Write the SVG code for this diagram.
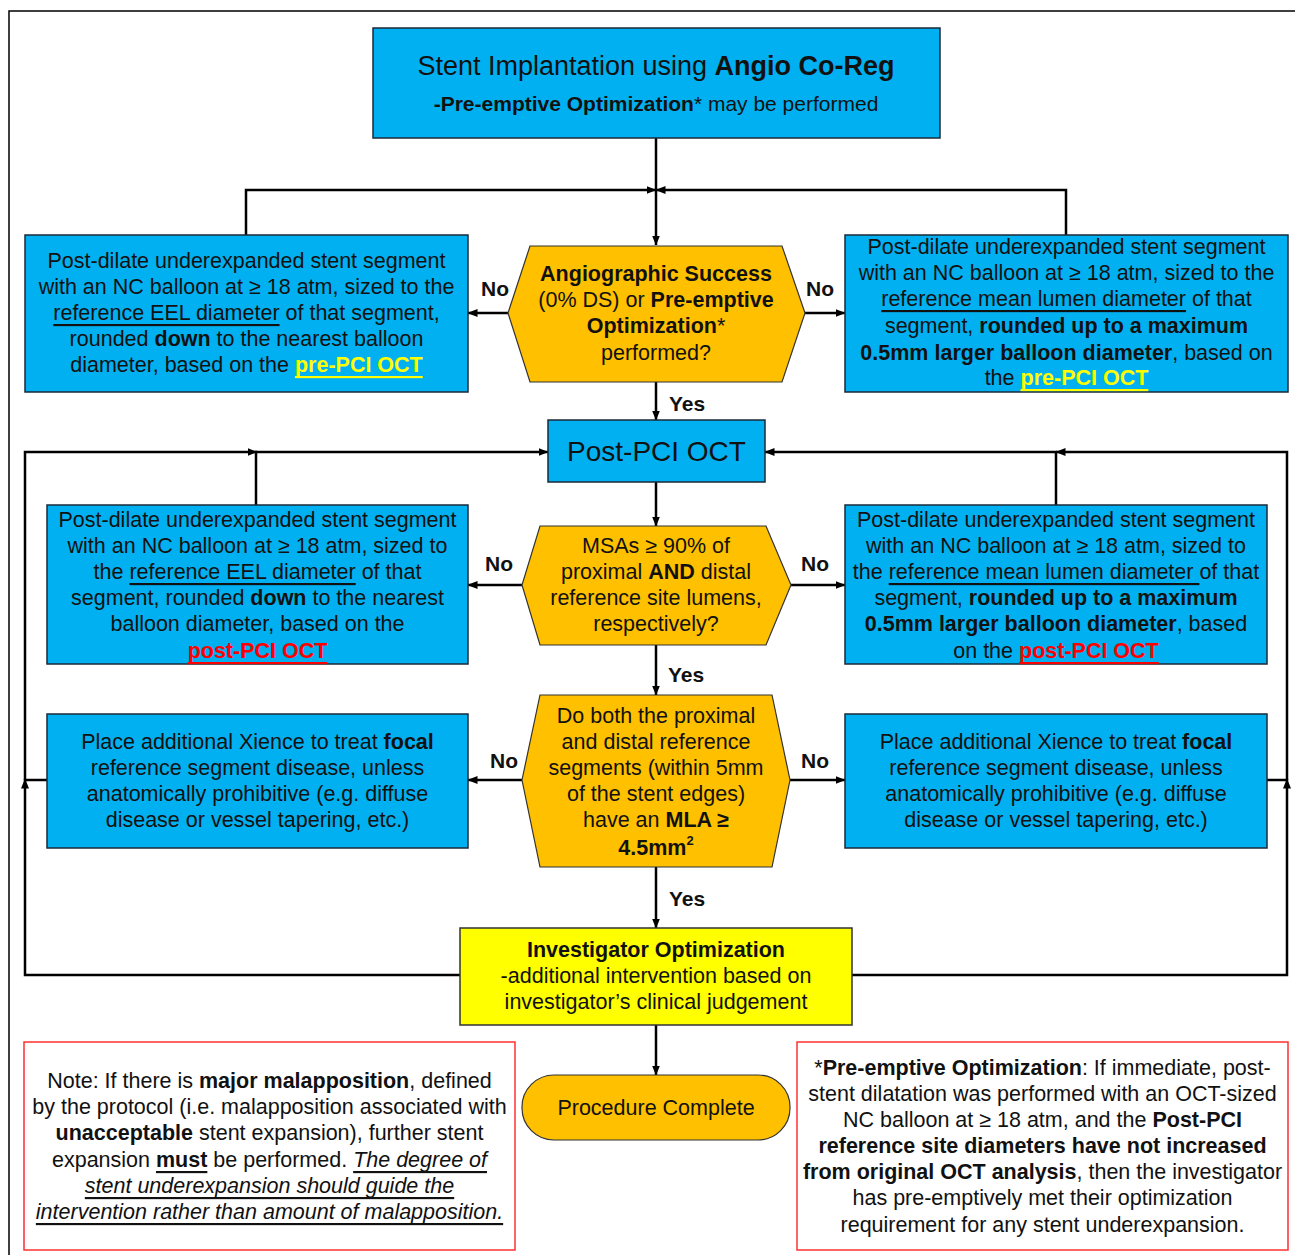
<svg xmlns="http://www.w3.org/2000/svg" width="1295" height="1255" viewBox="0 0 1295 1255">
<style>
text{font-family:"Liberation Sans",Arial,sans-serif;font-size:21.5px;fill:#111;text-anchor:middle;dominant-baseline:central}
.b{font-weight:bold}
.u{text-decoration:underline}
.i{font-style:italic}
.yl{fill:#FFFF00;font-weight:bold;text-decoration:underline}
.rd{fill:#FF0000;font-weight:bold;text-decoration:underline}
.blue{fill:#00B0F0;stroke:#1a2a3a;stroke-width:1.5}
.orange{fill:#FFC000;stroke:#333;stroke-width:1.2}
.yellow{fill:#FFFF00;stroke:#333;stroke-width:1.5}
.note{fill:#fff;stroke:#FF3030;stroke-width:1.5}
.lbl{font-weight:bold;font-size:21px}
.c path{fill:none;stroke:#000;stroke-width:2.5}
</style>
<defs>
<marker id="ah" markerWidth="10" markerHeight="8" refX="9.5" refY="4" orient="auto" markerUnits="userSpaceOnUse">
<path d="M0,0 L10,4 L0,8 z" fill="#000"/>
</marker>
</defs>
<rect x="0" y="0" width="1295" height="1255" fill="#fff"/>
<rect x="9" y="11" width="1300" height="1260" fill="none" stroke="#000" stroke-width="1.5"/>

<g class="c" id="connectors">
<path d="M656,138 V245" marker-end="url(#ah)"/>
<path d="M246,235 V190 H656" marker-end="url(#ah)"/>
<path d="M1066,235 V190 H656" marker-end="url(#ah)"/>
<path d="M508,313 H468" marker-end="url(#ah)"/>
<path d="M805,313 H845" marker-end="url(#ah)"/>
<path d="M656,382 V420" marker-end="url(#ah)"/>
<path d="M656,482 V526" marker-end="url(#ah)"/>
<path d="M522,585 H468" marker-end="url(#ah)"/>
<path d="M791,585 H845" marker-end="url(#ah)"/>
<path d="M656,645 V695" marker-end="url(#ah)"/>
<path d="M522,780 H468" marker-end="url(#ah)"/>
<path d="M790,780 H845" marker-end="url(#ah)"/>
<path d="M656,867 V928" marker-end="url(#ah)"/>
<path d="M656,1025 V1075" marker-end="url(#ah)"/>
<path d="M460,975 H25 V779" marker-end="url(#ah)"/>
<path d="M25,780 V452 H257" marker-end="url(#ah)"/>
<path d="M47,780 H25"/>
<path d="M256,505 V452 H548" marker-end="url(#ah)"/>
<path d="M852,975 H1287 V779" marker-end="url(#ah)"/>
<path d="M1287,780 V452 H1056" marker-end="url(#ah)"/>
<path d="M1267,780 H1287"/>
<path d="M1056,505 V452 H765" marker-end="url(#ah)"/>
</g>
<g class="lbls" id="edge-labels">
<text class="lbl" x="495" y="288">No</text>
<text class="lbl" x="820" y="288">No</text>
<text class="lbl" x="687" y="403">Yes</text>
<text class="lbl" x="499" y="563">No</text>
<text class="lbl" x="815" y="563">No</text>
<text class="lbl" x="686" y="674">Yes</text>
<text class="lbl" x="504" y="760">No</text>
<text class="lbl" x="815" y="760">No</text>
<text class="lbl" x="687" y="898">Yes</text>
</g>

<g id="start">
<rect class="blue" x="373" y="28" width="567" height="110"/>
<text x="656" y="66" style="font-size:27px">Stent Implantation using <tspan class="b">Angio Co-Reg</tspan></text>
<text x="656" y="103" style="font-size:21px"><tspan class="b">-Pre-emptive Optimization</tspan>* may be performed</text>
</g>

<g id="dec1">
<polygon class="orange" points="530,246 782,246 805,313 782,382 530,382 508,313"/>
<text x="656" y="274"><tspan class="b">Angiographic Success</tspan></text>
<text x="656" y="300">(0% DS) or <tspan class="b">Pre-emptive</tspan></text>
<text x="656" y="326"><tspan class="b">Optimization</tspan>*</text>
<text x="656" y="353">performed?</text>
</g>

<g id="left1">
<rect class="blue" x="25" y="235" width="443" height="157"/>
<text x="246.5" y="261">Post-dilate underexpanded stent segment</text>
<text x="246.5" y="287">with an NC balloon at ≥ 18 atm, sized to the</text>
<text x="246.5" y="313"><tspan class="u">reference EEL diameter</tspan> of that segment,</text>
<text x="246.5" y="339">rounded <tspan class="b">down</tspan> to the nearest balloon</text>
<text x="246.5" y="365">diameter, based on the <tspan class="yl">pre-PCI OCT</tspan></text>
</g>

<g id="right1">
<rect class="blue" x="845" y="235" width="443" height="157"/>
<text x="1066.5" y="247">Post-dilate underexpanded stent segment</text>
<text x="1066.5" y="273">with an NC balloon at ≥ 18 atm, sized to the</text>
<text x="1066.5" y="299"><tspan class="u">reference mean lumen diameter</tspan> of that</text>
<text x="1066.5" y="326">segment, <tspan class="b">rounded up to a maximum</tspan></text>
<text x="1066.5" y="353"><tspan class="b">0.5mm larger balloon diameter</tspan>, based on</text>
<text x="1066.5" y="378">the <tspan class="yl">pre-PCI OCT</tspan></text>
</g>

<g id="postpci">
<rect class="blue" x="548" y="420" width="217" height="62"/>
<text x="656.5" y="451" style="font-size:28px">Post-PCI OCT</text>
</g>

<g id="dec2">
<polygon class="orange" points="540,526 766,526 791,585 766,645 540,645 522,585"/>
<text x="656" y="546">MSAs ≥ 90% of</text>
<text x="656" y="572">proximal <tspan class="b">AND</tspan> distal</text>
<text x="656" y="598">reference site lumens,</text>
<text x="656" y="624">respectively?</text>
</g>

<g id="left2">
<rect class="blue" x="47" y="505" width="421" height="159"/>
<text x="257.5" y="520">Post-dilate underexpanded stent segment</text>
<text x="257.5" y="546">with an NC balloon at ≥ 18 atm, sized to</text>
<text x="257.5" y="572">the <tspan class="u">reference EEL diameter</tspan> of that</text>
<text x="257.5" y="598">segment, rounded <tspan class="b">down</tspan> to the nearest</text>
<text x="257.5" y="624">balloon diameter, based on the</text>
<text x="257.5" y="651"><tspan class="rd">post-PCI OCT</tspan></text>
</g>

<g id="right2">
<rect class="blue" x="845" y="505" width="422" height="159"/>
<text x="1056" y="520">Post-dilate underexpanded stent segment</text>
<text x="1056" y="546">with an NC balloon at ≥ 18 atm, sized to</text>
<text x="1056" y="572">the <tspan class="u">reference mean lumen diameter </tspan>of that</text>
<text x="1056" y="598">segment, <tspan class="b">rounded up to a maximum</tspan></text>
<text x="1056" y="624"><tspan class="b">0.5mm larger balloon diameter</tspan>, based</text>
<text x="1056" y="651">on the <tspan class="rd">post-PCI OCT</tspan></text>
</g>

<g id="dec3">
<polygon class="orange" points="540,695 772,695 790,780 772,867 540,867 522,780"/>
<text x="656" y="716">Do both the proximal</text>
<text x="656" y="742">and distal reference</text>
<text x="656" y="768">segments (within 5mm</text>
<text x="656" y="794">of the stent edges)</text>
<text x="656" y="820">have an <tspan class="b">MLA ≥</tspan></text>
<text x="656" y="848" class="b">4.5mm<tspan style="font-size:13px" dy="-8">2</tspan></text>
</g>

<g id="left3">
<rect class="blue" x="47" y="714" width="421" height="134"/>
<text x="257.5" y="742">Place additional Xience to treat <tspan class="b">focal</tspan></text>
<text x="257.5" y="768">reference segment disease, unless</text>
<text x="257.5" y="794">anatomically prohibitive (e.g. diffuse</text>
<text x="257.5" y="820">disease or vessel tapering, etc.)</text>
</g>

<g id="right3">
<rect class="blue" x="845" y="714" width="422" height="134"/>
<text x="1056" y="742">Place additional Xience to treat <tspan class="b">focal</tspan></text>
<text x="1056" y="768">reference segment disease, unless</text>
<text x="1056" y="794">anatomically prohibitive (e.g. diffuse</text>
<text x="1056" y="820">disease or vessel tapering, etc.)</text>
</g>

<g id="investigator">
<rect class="yellow" x="460" y="928" width="392" height="97"/>
<text x="656" y="950" class="b">Investigator Optimization</text>
<text x="656" y="976">-additional intervention based on</text>
<text x="656" y="1002">investigator’s clinical judgement</text>
</g>

<g id="complete">
<rect class="orange" x="522" y="1075" width="268" height="65" rx="32" ry="32"/>
<text x="656" y="1108">Procedure Complete</text>
</g>

<g id="note-left">
<rect class="note" x="24" y="1042" width="491" height="208"/>
<text x="269.5" y="1081">Note: If there is <tspan class="b">major malapposition</tspan>, defined</text>
<text x="269.5" y="1107">by the protocol (i.e. malapposition associated with</text>
<text x="269.5" y="1133"><tspan class="b">unacceptable</tspan> stent expansion), further stent</text>
<text x="269.5" y="1160">expansion <tspan class="b u">must</tspan> be performed. <tspan class="i u">The degree of</tspan></text>
<text x="269.5" y="1186" class="i u">stent underexpansion should guide the</text>
<text x="269.5" y="1212" class="i u">intervention rather than amount of malapposition.</text>
</g>

<g id="note-right">
<rect class="note" x="797" y="1042" width="491" height="208"/>
<text x="1042.5" y="1068">*<tspan class="b">Pre-emptive Optimization</tspan>:  If immediate, post-</text>
<text x="1042.5" y="1094">stent dilatation was performed with an OCT-sized</text>
<text x="1042.5" y="1120">NC balloon at ≥ 18 atm, and the <tspan class="b">Post-PCI</tspan></text>
<text x="1042.5" y="1146" class="b">reference site diameters have not increased</text>
<text x="1042.5" y="1172"><tspan class="b">from original OCT analysis</tspan>, then the investigator</text>
<text x="1042.5" y="1198">has pre-emptively met their optimization</text>
<text x="1042.5" y="1225">requirement for any stent underexpansion.</text>
</g>
</svg>
